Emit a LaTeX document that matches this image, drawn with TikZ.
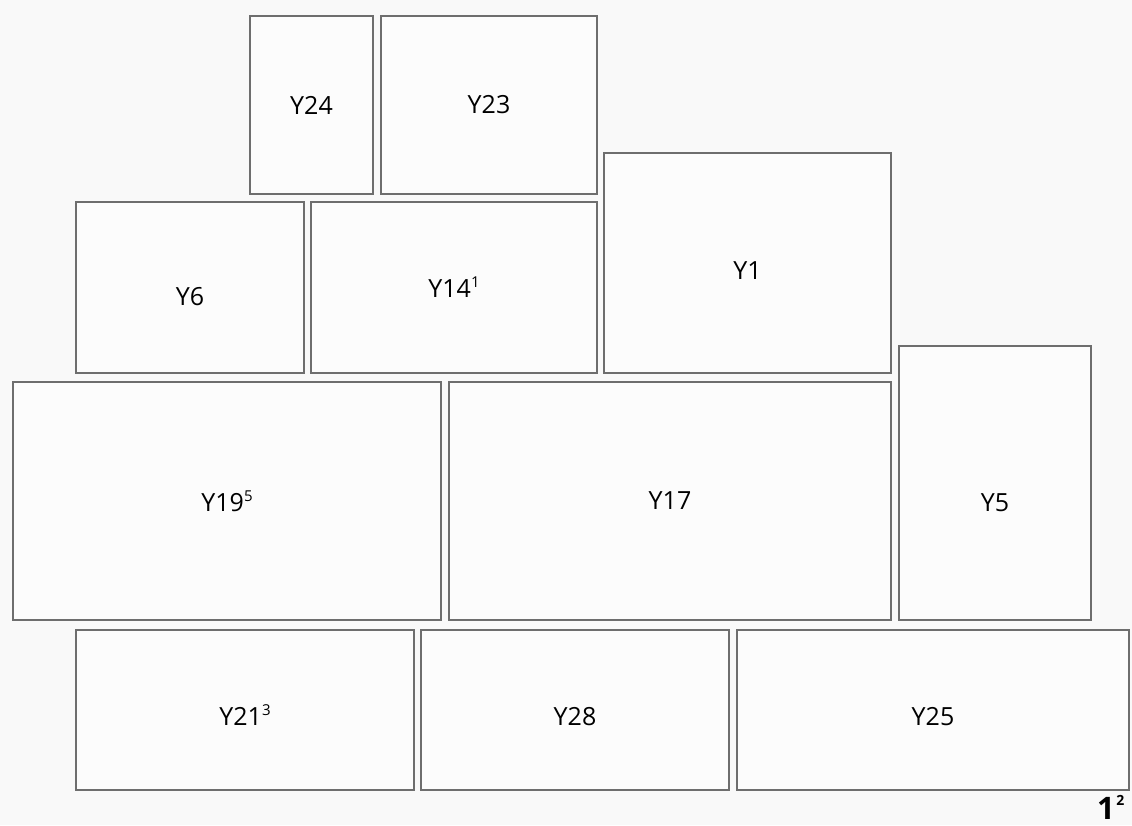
\documentclass[tikz,border=0pt]{standalone}
\usepackage{fontspec}
\setmainfont{Open Sans}
\usetikzlibrary{positioning}
\definecolor{pagebg}{HTML}{F9F9F9}
\definecolor{boxfill}{HTML}{FCFCFC}
\definecolor{boxline}{HTML}{6E6E6E}
\newcommand\roomsup[1]{\raisebox{0.4em}{\fontsize{15}{15}\selectfont #1}}
\tikzset{%
  room/.style={draw=boxline, fill=boxfill, line width=1.3pt, inner sep=0pt,
               font=\fontsize{25}{30}\selectfont, text=black},
  drop/.style={text height=#1, text depth=0pt},
}

\begin{document}
\begin{tikzpicture}[x=1pt, y=-1pt]
    % page
    \fill[pagebg] (0,0) rectangle (1132,825);
    \useasboundingbox (0,0) rectangle (1132,825);

    % top row
    \node[room, minimum width=123pt, minimum height=178pt] (y24) at (311.5,105) {Y24};
    \node[room, minimum width=216pt, minimum height=178pt] (y23) at (489,105) {Y23};

    % second row
    \node[room, drop=36pt, minimum width=228pt, minimum height=171pt] (y6) at (190,287.5) {Y6};
    \node[room, minimum width=286pt, minimum height=171pt] (y14) at (454,287.5) {Y14\roomsup{1}};
    \node[room, drop=32pt, minimum width=287pt, minimum height=220pt] (y1) at (747.5,263) {Y1};

    % middle row
    \node[room, minimum width=428pt, minimum height=238pt] (y19) at (227,501) {Y19\roomsup{5}};
    \node[room, minimum width=442pt, minimum height=238pt] (y17) at (670,501) {Y17};
    \node[room, drop=57pt, minimum width=192pt, minimum height=274pt] (y5) at (995,483) {Y5};

    % bottom row
    \node[room, drop=30pt, minimum width=338pt, minimum height=160pt] (y21) at (245,710) {Y21\roomsup{3}};
    \node[room, drop=30pt, minimum width=308pt, minimum height=160pt] (y28) at (575,710) {Y28};
    \node[room, drop=30pt, minimum width=392pt, minimum height=160pt] (y25) at (933,710) {Y25};

    % sheet number
    \node[font=\fontsize{31}{34}\selectfont\bfseries, anchor=base west, inner sep=0pt] (sheet) at (1097,819)
        {1\hspace{1.5pt}\raisebox{0.45em}{\fontsize{14}{14}\selectfont\bfseries 2}};
\end{tikzpicture}
\end{document}
